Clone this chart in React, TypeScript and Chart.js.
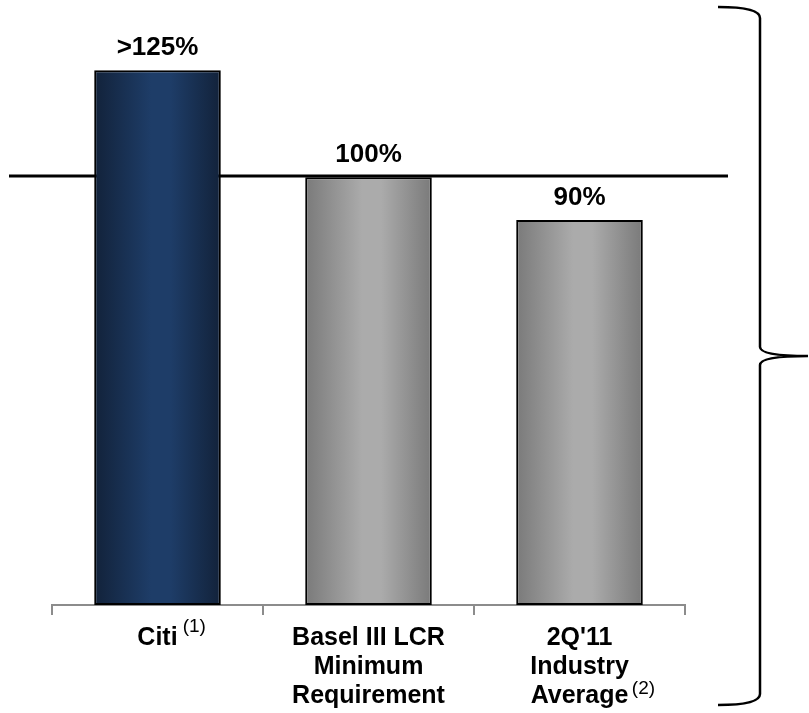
import React, { useEffect, useRef } from "react";
import { Chart, registerables } from "chart.js";

Chart.register(...registerables);

// ---- data ----
const CATEGORIES: string[][] = [
  ["Citi"],
  ["Basel III LCR", "Minimum", "Requirement"],
  ["2Q'11", "Industry", "Average"],
];
const VALUES: number[] = [125, 100, 90];
const VALUE_LABELS: string[] = [">125%", "100%", "90%"];
const FOOTNOTES: string[] = ["(1)", "", "(2)"];
const FOOTNOTE_AFTER_LINE: number[] = [0, -1, 1];
const REFERENCE_VALUE = 100;
const Y_MIN = 0;
const Y_MAX = 140;

// ---- style ----
const BAR_EDGE = ["#12223a", "#7a7a7a", "#7a7a7a"];
const BAR_MID = ["#1e3d68", "#ababab", "#ababab"];
const BAR_PCT = 0.6;
const FONT = '"Liberation Sans", Arial, sans-serif';
const W = 809;
const H = 713;

const overlayPlugin = {
  id: "overlay",
  beforeDatasetsDraw(chart: any) {
    const { ctx, chartArea, scales } = chart;
    const y = Math.round(scales.y.getPixelForValue(REFERENCE_VALUE)) - 1;
    ctx.save();
    ctx.strokeStyle = "#000";
    ctx.lineWidth = 3;
    ctx.beginPath();
    ctx.moveTo(chartArea.left - 43, y);
    ctx.lineTo(chartArea.right + 43, y);
    ctx.stroke();
    ctx.restore();
  },
  afterDatasetsDraw(chart: any) {
    const { ctx } = chart;
    const meta = chart.getDatasetMeta(0);
    ctx.save();
    ctx.fillStyle = "#000";
    ctx.font = `bold 26px ${FONT}`;
    ctx.textAlign = "center";
    ctx.textBaseline = "alphabetic";
    meta.data.forEach((el: any, i: number) => {
      ctx.fillText(VALUE_LABELS[i], el.x, el.y - 15);
    });
    ctx.restore();
  },
  afterDraw(chart: any) {
    const { ctx, chartArea, scales } = chart;
    const xs = scales.x;
    // footnotes
    ctx.save();
    ctx.fillStyle = "#000";
    FOOTNOTES.forEach((fn, i) => {
      if (!fn) return;
      const line = FOOTNOTE_AFTER_LINE[i];
      ctx.font = `bold 25px ${FONT}`;
      const tw = ctx.measureText(CATEGORIES[i][line]).width;
      const cx = xs.getPixelForValue(i);
      const lineMid = xs.top + 10 + 8 + 29.3 / 2 + line * 29.3;
      const yc = line === 0 ? lineMid - 11 : lineMid + 22;
      ctx.font = `19px ${FONT}`;
      ctx.textAlign = "left";
      ctx.textBaseline = "middle";
      ctx.fillText(fn, cx + tw / 2 + (line === 0 ? 5 : 3), yc);
    });
    ctx.restore();

    // brace
    const xv = chartArea.right + 75;
    const xl = chartArea.right + 33;
    const xt = chart.width - 1;
    const top = 7;
    const bot = chart.height - 8;
    const mid = (top + bot) / 2;
    ctx.save();
    ctx.strokeStyle = "#000";
    ctx.lineWidth = 2.5;
    ctx.beginPath();
    ctx.moveTo(xl, top);
    ctx.quadraticCurveTo(xv, top, xv, top + 11);
    ctx.lineTo(xv, mid - 9);
    ctx.quadraticCurveTo(xv, mid, xt, mid);
    ctx.quadraticCurveTo(xv, mid, xv, mid + 9);
    ctx.lineTo(xv, bot - 11);
    ctx.quadraticCurveTo(xv, bot, xl, bot);
    ctx.stroke();
    ctx.restore();
  },
};

export default function App() {
  const ref = useRef<HTMLCanvasElement | null>(null);

  useEffect(() => {
    if (!ref.current) return;
    const chart = new Chart(ref.current, {
      type: "bar",
      data: {
        labels: CATEGORIES as any,
        datasets: [
          {
            data: VALUES,
            backgroundColor: (c: any) => {
              const i = c.dataIndex;
              const chartObj = c.chart;
              const xs = chartObj.scales && chartObj.scales.x;
              if (i == null || !xs || !chartObj.chartArea) return "#999";
              const cx = xs.getPixelForValue(i);
              const w = (xs.width / CATEGORIES.length) * BAR_PCT;
              const g = chartObj.ctx.createLinearGradient(cx - w / 2, 0, cx + w / 2, 0);
              g.addColorStop(0, BAR_EDGE[i]);
              g.addColorStop(0.45, BAR_MID[i]);
              g.addColorStop(0.6, BAR_MID[i]);
              g.addColorStop(1, BAR_EDGE[i]);
              return g;
            },
            borderColor: "#000",
            borderWidth: 2,
            borderSkipped: false,
            categoryPercentage: 1,
            barPercentage: BAR_PCT,
          },
        ],
      },
      options: {
        responsive: false,
        animation: false,
        layout: { padding: { top: 6, left: 52, right: 124, bottom: 0 } },
        plugins: {
          legend: { display: false },
          tooltip: { enabled: false },
        },
        scales: {
          x: {
            grid: {
              display: true,
              drawOnChartArea: false,
              drawTicks: true,
              tickLength: 10,
              color: "#8c8c8c",
              lineWidth: 2,
              offset: true,
            },
            border: { display: true, color: "#8c8c8c", width: 2 },
            ticks: {
              color: "#000",
              font: { family: FONT, size: 25, weight: "bold", lineHeight: 1.172 },
              padding: 8,
              maxRotation: 0,
              autoSkip: false,
            },
            afterFit: (scale: any) => {
              scale.height = 108;
            },
          },
          y: {
            display: false,
            min: Y_MIN,
            max: Y_MAX,
          },
        },
      },
      plugins: [overlayPlugin],
    });
    return () => chart.destroy();
  }, []);

  return (
    <div style={{ position: "absolute", left: 0, top: 0, width: W, height: H, background: "#fff" }}>
      <canvas ref={ref} width={W} height={H} style={{ width: W, height: H, display: "block" }} />
    </div>
  );
}
